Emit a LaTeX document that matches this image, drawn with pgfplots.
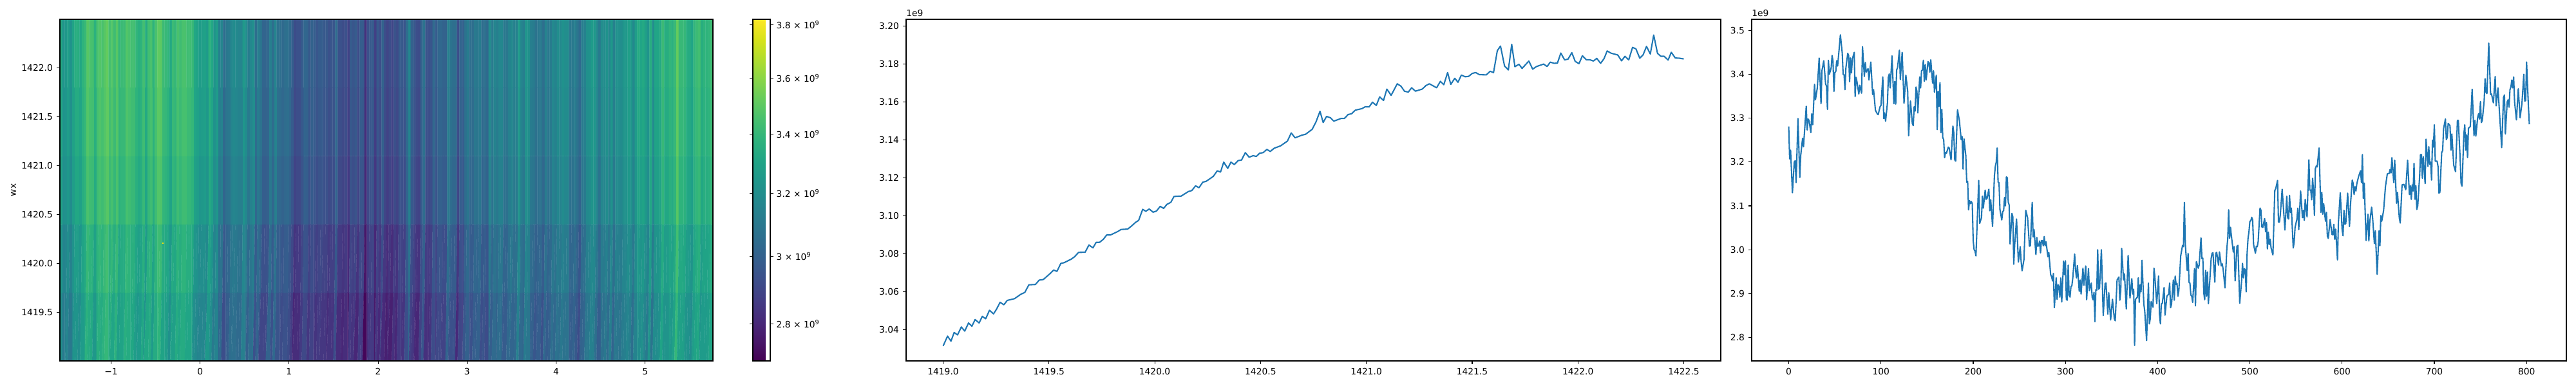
\documentclass[border=0pt]{standalone}
\usepackage{fontspec}
\setmainfont{DejaVu Sans}
\usepackage{pgfplots}
\pgfplotsset{compat=1.18}
\pgfplotsset{
 mystyle/.style={
  scale only axis, axis on top,
  axis line style={line width=0.8bp,black},
  tick align=outside, major tick length=3.5bp,
  xtick pos=bottom, ytick pos=left,
  every tick/.style={line width=0.8bp,black},
  tick label style={font=\fontsize{10}{12}\selectfont},
  xticklabel style={yshift=-1bp},
  yticklabel style={xshift=-1bp},
  /pgf/number format/assume math mode=true,
  clip mode=individual,
 },
}
\definecolor{cz}{HTML}{1F77B4}
\begin{document}
\begin{tikzpicture}
\useasboundingbox (0,0) rectangle (2880bp,432bp);
% heat map
\begin{axis}[mystyle, at={(66.96bp,28.08bp)}, anchor=south west, width=730.08bp, height=382.32bp,
 xmin=-1.575, xmax=5.762, ymin=1419, ymax=1422.5,
 xtick={-1,0,1,2,3,4,5}, xticklabels={−1,0,1,2,3,4,5},
 ytick={1419.5,1420,1420.5,1421,1421.5,1422}, yticklabels={1419.5,1420.0,1420.5,1421.0,1421.5,1422.0},
 ylabel={wx}, ylabel style={font=\fontsize{10}{12}\selectfont, at={(axis description cs:-0.071,0.5)}, anchor=center},
 colormap name=viridis, point meta min=0.9921, point meta max=1.3408,
 colorbar,
 colorbar style={scale only axis, at={(1.0611,0)}, anchor=south west, width=19.44bp, height=382.32bp,
  axis line style={line width=0.8bp,black},
  ytick={1.0296,1.0986,1.1632,1.2238,1.2809,1.3350},
  yticklabels={2.8 × 10\textsuperscript{9},3 × 10\textsuperscript{9},3.2 × 10\textsuperscript{9},3.4 × 10\textsuperscript{9},3.6 × 10\textsuperscript{9},3.8 × 10\textsuperscript{9}},
  tick align=outside, major tick length=3.5bp,
  every tick/.style={line width=0.8bp,black},
  yticklabel style={font=\fontsize{10}{12}\selectfont},
 },
]
\addplot[matrix plot*, mesh/rows=5, mesh/cols=268, mesh/ordering=y varies, draw=mapped color, line width=0.2bp, point meta={ln(\thisrow{z})}]
 table[x expr={-1.5613+floor(\coordindex/5)*0.027375}, y expr={1419.35+mod(\coordindex,5)*0.7}] {
z
3.21
3.25
3.30
3.32
3.33
3.11
3.15
3.20
3.22
3.23
3.13
3.17
3.22
3.24
3.25
3.16
3.20
3.25
3.27
3.28
3.10
3.14
3.19
3.21
3.22
3.18
3.22
3.27
3.29
3.30
3.23
3.27
3.32
3.34
3.35
3.23
3.27
3.32
3.34
3.35
3.20
3.24
3.29
3.31
3.32
3.26
3.30
3.35
3.37
3.38
3.29
3.33
3.38
3.40
3.41
3.37
3.41
3.46
3.48
3.49
3.34
3.38
3.43
3.45
3.46
3.33
3.37
3.42
3.44
3.45
3.25
3.29
3.34
3.36
3.37
3.34
3.38
3.43
3.45
3.46
3.36
3.40
3.45
3.47
3.48
3.34
3.38
3.43
3.45
3.46
3.37
3.41
3.46
3.48
3.49
3.40
3.44
3.49
3.51
3.52
3.33
3.37
3.42
3.44
3.45
3.36
3.40
3.45
3.47
3.48
3.31
3.35
3.40
3.42
3.43
3.37
3.41
3.46
3.48
3.49
3.28
3.32
3.37
3.39
3.40
3.30
3.34
3.39
3.41
3.42
3.30
3.34
3.39
3.41
3.42
3.36
3.40
3.45
3.47
3.48
3.34
3.38
3.43
3.45
3.46
3.32
3.36
3.41
3.43
3.44
3.32
3.36
3.41
3.43
3.44
3.27
3.31
3.36
3.38
3.39
3.24
3.28
3.33
3.35
3.36
3.26
3.30
3.35
3.37
3.38
3.32
3.36
3.41
3.43
3.44
3.22
3.26
3.31
3.33
3.34
3.32
3.36
3.41
3.43
3.44
3.34
3.38
3.43
3.45
3.46
3.26
3.30
3.35
3.37
3.38
3.34
3.38
3.43
3.45
3.46
3.39
3.43
3.48
3.50
3.51
3.38
3.42
3.47
3.49
3.50
3.30
3.34
3.39
3.41
3.42
3.29
3.33
3.38
3.40
3.41
3.27
3.31
3.36
3.38
3.39
3.21
3.25
3.30
3.32
3.33
3.30
3.34
3.39
3.41
3.42
3.28
3.32
3.37
3.39
3.40
3.34
3.38
3.43
3.45
3.46
3.31
3.35
3.40
3.42
3.43
3.34
3.38
3.43
3.45
3.46
3.34
3.38
3.43
3.45
3.46
3.31
3.35
3.40
3.42
3.43
3.31
3.35
3.40
3.42
3.43
3.29
3.33
3.38
3.40
3.41
3.20
3.24
3.29
3.31
3.32
3.18
3.22
3.27
3.29
3.30
3.15
3.19
3.24
3.26
3.27
3.16
3.20
3.25
3.27
3.28
3.17
3.21
3.26
3.28
3.29
3.14
3.18
3.23
3.25
3.26
3.25
3.29
3.34
3.36
3.37
3.20
3.24
3.29
3.31
3.32
3.11
3.15
3.20
3.22
3.23
3.15
3.19
3.24
3.26
3.27
3.02
3.06
3.11
3.13
3.14
3.04
3.08
3.13
3.15
3.16
2.93
2.97
3.02
3.04
3.05
2.98
3.02
3.07
3.09
3.10
2.99
3.03
3.08
3.10
3.11
3.05
3.09
3.14
3.16
3.17
3.07
3.11
3.16
3.18
3.19
3.06
3.10
3.15
3.17
3.18
3.04
3.08
3.13
3.15
3.16
3.04
3.08
3.13
3.15
3.16
3.13
3.17
3.22
3.24
3.25
3.08
3.12
3.17
3.19
3.20
3.00
3.04
3.09
3.11
3.12
3.05
3.09
3.14
3.16
3.17
3.09
3.13
3.18
3.20
3.21
2.94
2.98
3.03
3.05
3.06
3.01
3.05
3.10
3.12
3.13
2.97
3.01
3.06
3.08
3.09
2.90
2.94
2.99
3.01
3.02
2.90
2.94
2.99
3.01
3.02
2.91
2.95
3.00
3.02
3.03
3.01
3.05
3.10
3.12
3.13
2.94
2.98
3.03
3.05
3.06
3.04
3.08
3.13
3.15
3.16
2.95
2.99
3.04
3.06
3.07
2.94
2.98
3.03
3.05
3.06
2.92
2.96
3.01
3.03
3.04
2.94
2.98
3.03
3.05
3.06
2.95
2.99
3.04
3.06
3.07
2.92
2.96
3.01
3.03
3.04
2.87
2.91
2.96
2.98
2.99
2.80
2.84
2.89
2.91
2.92
2.82
2.86
2.91
2.93
2.94
2.82
2.86
2.91
2.93
2.94
2.86
2.90
2.95
2.97
2.98
2.91
2.95
3.00
3.02
3.03
2.90
2.94
2.99
3.01
3.02
2.85
2.89
2.94
2.96
2.97
2.89
2.93
2.98
3.00
3.01
2.87
2.91
2.96
2.98
2.99
2.84
2.88
2.93
2.95
2.96
2.86
2.90
2.95
2.97
2.98
2.87
2.91
2.96
2.98
2.99
2.85
2.89
2.94
2.96
2.97
2.85
2.89
2.94
2.96
2.97
2.82
2.86
2.91
2.93
2.94
2.84
2.88
2.93
2.95
2.96
2.84
2.88
2.93
2.95
2.96
2.93
2.97
3.02
3.04
3.05
2.82
2.86
2.91
2.93
2.94
2.82
2.86
2.91
2.93
2.94
2.80
2.84
2.89
2.91
2.92
2.82
2.86
2.91
2.93
2.94
2.77
2.81
2.86
2.88
2.89
2.86
2.90
2.95
2.97
2.98
2.84
2.88
2.93
2.95
2.96
2.86
2.90
2.95
2.97
2.98
2.80
2.84
2.89
2.91
2.92
2.87
2.91
2.96
2.98
2.99
2.86
2.90
2.95
2.97
2.98
2.71
2.75
2.80
2.82
2.83
2.82
2.86
2.91
2.93
2.94
2.85
2.89
2.94
2.96
2.97
2.86
2.90
2.95
2.97
2.98
2.76
2.80
2.85
2.87
2.88
2.85
2.89
2.94
2.96
2.97
2.81
2.85
2.90
2.92
2.93
2.89
2.93
2.98
3.00
3.01
2.81
2.85
2.90
2.92
2.93
2.78
2.82
2.87
2.89
2.90
2.81
2.85
2.90
2.92
2.93
2.78
2.82
2.87
2.89
2.90
2.83
2.87
2.92
2.94
2.95
2.80
2.84
2.89
2.91
2.92
2.86
2.90
2.95
2.97
2.98
2.85
2.89
2.94
2.96
2.97
2.84
2.88
2.93
2.95
2.96
2.93
2.97
3.02
3.04
3.05
3.04
3.08
3.13
3.15
3.16
2.88
2.92
2.97
2.99
3.00
2.85
2.89
2.94
2.96
2.97
2.81
2.85
2.90
2.92
2.93
2.80
2.84
2.89
2.91
2.92
2.89
2.93
2.98
3.00
3.01
2.96
3.00
3.05
3.07
3.08
2.83
2.87
2.92
2.94
2.95
2.82
2.86
2.91
2.93
2.94
2.84
2.88
2.93
2.95
2.96
2.92
2.96
3.01
3.03
3.04
2.86
2.90
2.95
2.97
2.98
2.91
2.95
3.00
3.02
3.03
2.91
2.95
3.00
3.02
3.03
2.89
2.93
2.98
3.00
3.01
2.89
2.93
2.98
3.00
3.01
3.02
3.06
3.11
3.13
3.14
2.96
3.00
3.05
3.07
3.08
2.94
2.98
3.03
3.05
3.06
2.94
2.98
3.03
3.05
3.06
2.81
2.85
2.90
2.92
2.93
2.90
2.94
2.99
3.01
3.02
2.88
2.92
2.97
2.99
3.00
2.96
3.00
3.05
3.07
3.08
3.00
3.04
3.09
3.11
3.12
2.94
2.98
3.03
3.05
3.06
2.94
2.98
3.03
3.05
3.06
2.99
3.03
3.08
3.10
3.11
2.98
3.02
3.07
3.09
3.10
3.00
3.04
3.09
3.11
3.12
2.93
2.97
3.02
3.04
3.05
2.95
2.99
3.04
3.06
3.07
2.92
2.96
3.01
3.03
3.04
3.07
3.11
3.16
3.18
3.19
2.99
3.03
3.08
3.10
3.11
3.04
3.08
3.13
3.15
3.16
3.01
3.05
3.10
3.12
3.13
3.05
3.09
3.14
3.16
3.17
3.05
3.09
3.14
3.16
3.17
2.98
3.02
3.07
3.09
3.10
2.98
3.02
3.07
3.09
3.10
3.03
3.07
3.12
3.14
3.15
3.06
3.10
3.15
3.17
3.18
3.02
3.06
3.11
3.13
3.14
3.03
3.07
3.12
3.14
3.15
3.14
3.18
3.23
3.25
3.26
3.04
3.08
3.13
3.15
3.16
3.01
3.05
3.10
3.12
3.13
3.12
3.16
3.21
3.23
3.24
3.09
3.13
3.18
3.20
3.21
3.01
3.05
3.10
3.12
3.13
3.00
3.04
3.09
3.11
3.12
2.96
3.00
3.05
3.07
3.08
2.98
3.02
3.07
3.09
3.10
2.99
3.03
3.08
3.10
3.11
2.94
2.98
3.03
3.05
3.06
3.03
3.07
3.12
3.14
3.15
2.98
3.02
3.07
3.09
3.10
3.00
3.04
3.09
3.11
3.12
3.06
3.10
3.15
3.17
3.18
3.03
3.07
3.12
3.14
3.15
3.08
3.12
3.17
3.19
3.20
3.06
3.10
3.15
3.17
3.18
3.10
3.14
3.19
3.21
3.22
3.08
3.12
3.17
3.19
3.20
3.08
3.12
3.17
3.19
3.20
2.98
3.02
3.07
3.09
3.10
2.99
3.03
3.08
3.10
3.11
3.01
3.05
3.10
3.12
3.13
2.97
3.01
3.06
3.08
3.09
2.92
2.96
3.01
3.03
3.04
3.01
3.05
3.10
3.12
3.13
3.02
3.06
3.11
3.13
3.14
3.09
3.13
3.18
3.20
3.21
3.10
3.14
3.19
3.21
3.22
3.14
3.18
3.23
3.25
3.26
3.13
3.17
3.22
3.24
3.25
3.06
3.10
3.15
3.17
3.18
2.99
3.03
3.08
3.10
3.11
3.08
3.12
3.17
3.19
3.20
3.07
3.11
3.16
3.18
3.19
3.10
3.14
3.19
3.21
3.22
3.05
3.09
3.14
3.16
3.17
3.13
3.17
3.22
3.24
3.25
3.02
3.06
3.11
3.13
3.14
3.10
3.14
3.19
3.21
3.22
3.09
3.13
3.18
3.20
3.21
3.08
3.12
3.17
3.19
3.20
3.12
3.16
3.21
3.23
3.24
3.13
3.17
3.22
3.24
3.25
3.16
3.20
3.25
3.27
3.28
3.13
3.17
3.22
3.24
3.25
3.06
3.10
3.15
3.17
3.18
3.15
3.19
3.24
3.26
3.27
3.22
3.26
3.31
3.33
3.34
3.19
3.23
3.28
3.30
3.31
3.21
3.25
3.30
3.32
3.33
3.16
3.20
3.25
3.27
3.28
3.11
3.15
3.20
3.22
3.23
3.23
3.27
3.32
3.34
3.35
3.08
3.12
3.17
3.19
3.20
3.19
3.23
3.28
3.30
3.31
3.19
3.23
3.28
3.30
3.31
3.21
3.25
3.30
3.32
3.33
3.30
3.34
3.39
3.41
3.42
3.23
3.27
3.32
3.34
3.35
3.23
3.27
3.32
3.34
3.35
3.27
3.31
3.36
3.38
3.39
3.25
3.29
3.34
3.36
3.37
3.29
3.33
3.38
3.40
3.41
3.40
3.44
3.49
3.51
3.52
3.29
3.33
3.38
3.40
3.41
3.29
3.33
3.38
3.40
3.41
3.28
3.32
3.37
3.39
3.40
3.23
3.27
3.32
3.34
3.35
3.22
3.26
3.31
3.33
3.34
3.19
3.23
3.28
3.30
3.31
3.27
3.31
3.36
3.38
3.39
3.30
3.34
3.39
3.41
3.42
3.32
3.36
3.41
3.43
3.44
3.23
3.27
3.32
3.34
3.35
3.26
3.30
3.35
3.37
3.38
3.26
3.30
3.35
3.37
3.38
3.27
3.31
3.36
3.38
3.39
3.31
3.35
3.40
3.42
3.43
};
\addplot[only marks, mark=square*, mark size=0.45bp, color=yellow!85!orange] coordinates {(-0.418,1420.21)};
\end{axis}
% row series
\begin{axis}[mystyle, at={(1013.04bp,28.08bp)}, anchor=south west, width=910.8bp, height=382.32bp,
 xmin=1418.825, xmax=1422.675, ymin=3.0234, ymax=3.2035,
 xtick={1419,1419.5,1420,1420.5,1421,1421.5,1422,1422.5},
 xticklabels={1419.0,1419.5,1420.0,1420.5,1421.0,1421.5,1422.0,1422.5},
 ytick={3.04,3.06,3.08,3.10,3.12,3.14,3.16,3.18,3.20},
 yticklabels={3.04,3.06,3.08,3.10,3.12,3.14,3.16,3.18,3.20},
]
\addplot[cz, line width=1.5bp, line join=round] table {
1419.00 3.0313
1419.021 3.0365
1419.037 3.0338
1419.052 3.0384
1419.068 3.0371
1419.086 3.0413
1419.102 3.0391
1419.120 3.0434
1419.136 3.0417
1419.151 3.0452
1419.170 3.0434
1419.185 3.0469
1419.201 3.0456
1419.219 3.0501
1419.238 3.0482
1419.253 3.0508
1419.269 3.0543
1419.287 3.0530
1419.303 3.0553
1419.337 3.0562
1419.368 3.0586
1419.386 3.0595
1419.405 3.0635
1419.436 3.0637
1419.454 3.0660
1419.473 3.0663
1419.504 3.0693
1419.522 3.0713
1419.538 3.0706
1419.556 3.0748
1419.572 3.0752
1419.606 3.0771
1419.621 3.0783
1419.640 3.0806
1419.671 3.0807
1419.689 3.0845
1419.708 3.0830
1419.723 3.0859
1419.739 3.0859
1419.757 3.0875
1419.773 3.0898
1419.791 3.0898
1419.825 3.0916
1419.841 3.0927
1419.872 3.0929
1419.890 3.0945
1419.909 3.0964
1419.924 3.0975
1419.943 3.1033
1419.958 3.1023
1419.974 3.1035
1419.992 3.1018
1420.008 3.1024
1420.026 3.1049
1420.042 3.1038
1420.057 3.1059
1420.076 3.1070
1420.091 3.1101
1420.125 3.1103
1420.159 3.1127
1420.175 3.1132
1420.193 3.1157
1420.209 3.1147
1420.227 3.1176
1420.243 3.1181
1420.277 3.1207
1420.295 3.1236
1420.311 3.1230
1420.326 3.1282
1420.345 3.1249
1420.360 3.1282
1420.376 3.1269
1420.394 3.1290
1420.410 3.1293
1420.428 3.1332
1420.446 3.1308
1420.465 3.1316
1420.480 3.1312
1420.496 3.1329
1420.512 3.1332
1420.530 3.1349
1420.546 3.1338
1420.564 3.1355
1420.595 3.1368
1420.627 3.1393
1420.645 3.1436
1420.663 3.1410
1420.695 3.1424
1420.713 3.1429
1420.744 3.1455
1420.762 3.1494
1420.781 3.1550
1420.796 3.1491
1420.812 3.1523
1420.830 3.1516
1420.846 3.1498
1420.880 3.1512
1420.896 3.1512
1420.914 3.1533
1420.930 3.1537
1420.948 3.1556
1420.979 3.1564
1420.995 3.1574
1421.013 3.1573
1421.029 3.1598
1421.047 3.1581
1421.063 3.1626
1421.081 3.1607
1421.097 3.1667
1421.117 3.1634
1421.146 3.1695
1421.164 3.1682
1421.180 3.1656
1421.198 3.1651
1421.214 3.1674
1421.232 3.1656
1421.264 3.1667
1421.282 3.1686
1421.298 3.1695
1421.332 3.1674
1421.350 3.1708
1421.366 3.1690
1421.384 3.1754
1421.399 3.1692
1421.418 3.1724
1421.433 3.1703
1421.449 3.1741
1421.467 3.1732
1421.483 3.1734
1421.501 3.1750
1421.517 3.1754
1421.535 3.1743
1421.567 3.1742
1421.585 3.1761
1421.601 3.1754
1421.619 3.1870
1421.634 3.1894
1421.653 3.1789
1421.671 3.1768
1421.687 3.1903
1421.702 3.1785
1421.721 3.1798
1421.736 3.1776
1421.768 3.1815
1421.786 3.1772
1421.804 3.1786
1421.838 3.1799
1421.854 3.1786
1421.869 3.1809
1421.888 3.1803
1421.903 3.1804
1421.919 3.1857
1421.937 3.1821
1421.953 3.1825
1421.971 3.1859
1421.987 3.1813
1422.005 3.1801
1422.021 3.1843
1422.039 3.1822
1422.055 3.1822
1422.073 3.1815
1422.089 3.1829
1422.107 3.1803
1422.123 3.1827
1422.138 3.1868
1422.157 3.1856
1422.188 3.1847
1422.206 3.1816
1422.222 3.1840
1422.240 3.1821
1422.258 3.1887
1422.274 3.1879
1422.292 3.1830
1422.308 3.1848
1422.324 3.1892
1422.342 3.1852
1422.358 3.1952
1422.376 3.1855
1422.392 3.1840
1422.407 3.1840
1422.426 3.1820
1422.441 3.1861
1422.460 3.1831
1422.478 3.1830
1422.50 3.1826
};
\node[anchor=base west, inner sep=0pt, font=\fontsize{10}{12}\selectfont] at ([yshift=3bp]rel axis cs:0,1) {1e9};
\end{axis}
% column series
\begin{axis}[mystyle, at={(1958.4bp,28.08bp)}, anchor=south west, width=910.8bp, height=382.32bp,
 xmin=-40.15, xmax=843.15, ymin=2.7466, ymax=3.5254,
 xtick={0,100,200,300,400,500,600,700,800},
 xticklabels={0,100,200,300,400,500,600,700,800},
 ytick={2.8,2.9,3.0,3.1,3.2,3.3,3.4,3.5},
 yticklabels={2.8,2.9,3.0,3.1,3.2,3.3,3.4,3.5},
]
\addplot[cz, line width=1.5bp, line join=round] table {
0 3.281
1 3.207
2 3.227
4 3.130
6 3.200
7 3.203
8 3.153
10 3.299
12 3.165
13 3.215
15 3.254
16 3.235
19 3.327
20 3.273
21 3.298
22 3.295
24 3.267
25 3.310
26 3.285
28 3.377
29 3.342
31 3.369
33 3.437
35 3.333
36 3.408
38 3.431
40 3.378
41 3.373
42 3.320
43 3.432
44 3.400
46 3.414
47 3.443
48 3.430
49 3.361
50 3.404
51 3.406
52 3.431
53 3.419
54 3.442
56 3.490
58 3.449
59 3.400
60 3.399
61 3.365
62 3.415
64 3.448
65 3.442
66 3.383
67 3.437
68 3.403
69 3.435
71 3.450
72 3.349
73 3.393
74 3.383
76 3.355
77 3.375
79 3.357
80 3.463
82 3.395
83 3.427
84 3.405
86 3.413
87 3.387
89 3.428
91 3.354
92 3.365
94 3.318
96 3.310
97 3.308
99 3.326
100 3.329
102 3.394
103 3.299
104 3.312
105 3.293
107 3.334
108 3.393
109 3.401
110 3.369
112 3.442
114 3.333
115 3.384
116 3.332
117 3.410
118 3.415
120 3.455
121 3.388
123 3.450
125 3.334
127 3.398
129 3.361
130 3.260
132 3.339
134 3.288
135 3.283
136 3.326
137 3.316
138 3.371
139 3.361
140 3.312
142 3.394
143 3.369
144 3.408
145 3.410
146 3.432
147 3.384
148 3.422
149 3.387
151 3.429
152 3.426
153 3.405
154 3.433
156 3.380
157 3.408
158 3.359
160 3.398
161 3.274
162 3.361
163 3.327
164 3.381
165 3.267
166 3.320
167 3.256
168 3.251
169 3.210
170 3.222
171 3.220
173 3.234
174 3.232
176 3.205
178 3.282
179 3.266
180 3.205
181 3.202
183 3.319
185 3.295
187 3.251
188 3.258
189 3.184
190 3.253
192 3.215
193 3.154
194 3.156
195 3.091
196 3.112
197 3.105
198 3.110
199 3.105
200 3.021
201 3.000
202 2.997
203 2.986
206 3.158
207 3.060
209 3.073
210 3.122
211 3.095
213 3.136
214 3.115
215 3.117
217 3.138
218 3.089
219 3.114
221 3.053
223 3.168
224 3.190
225 3.200
226 3.232
227 3.154
228 3.153
229 3.092
231 3.068
232 3.087
233 3.089
234 3.119
235 3.100
236 3.166
237 3.164
238 3.109
239 3.102
240 3.013
242 3.083
243 3.075
244 2.967
245 3.012
247 3.070
249 2.972
251 3.007
252 2.973
253 2.952
255 2.977
257 3.090
259 3.073
261 3.008
262 3.009
264 3.108
265 3.029
266 3.046
268 2.989
269 3.028
270 3.008
271 3.009
272 3.020
273 2.993
274 3.021
275 3.021
276 3.009
277 3.030
278 3.009
279 3.018
281 2.984
282 2.994
284 2.943
285 2.939
286 2.929
287 2.946
288 2.868
290 2.936
291 2.887
292 2.920
293 2.916
294 2.892
295 2.936
296 2.881
298 2.974
299 2.943
300 2.975
301 2.887
302 2.885
303 2.965
304 2.897
305 2.892
306 2.916
307 2.918
308 2.936
310 2.990
311 2.953
312 2.936
313 2.964
315 2.905
316 2.931
317 2.899
319 2.958
320 2.919
322 2.963
323 2.886
325 2.957
326 2.907
328 2.924
329 2.892
330 2.886
331 2.903
332 2.836
333 2.909
334 2.908
335 3.000
336 2.910
337 2.913
339 3.000
341 2.850
343 2.923
344 2.924
346 2.853
347 2.902
349 2.840
351 2.887
353 2.843
354 2.838
356 2.931
358 2.938
359 2.885
360 2.907
361 3.003
363 2.931
364 2.945
366 2.865
368 2.987
370 2.890
372 2.934
373 2.899
374 2.910
375 2.782
376 2.887
378 2.892
379 2.936
380 2.880
381 2.920
382 2.904
383 2.976
385 2.877
386 2.860
388 2.793
390 2.924
391 2.831
392 2.843
393 2.882
395 2.869
396 2.958
397 2.938
399 2.877
401 2.940
402 2.853
403 2.831
404 2.877
405 2.877
407 2.914
408 2.851
410 2.894
412 2.899
413 2.924
414 2.868
415 2.875
417 2.931
418 2.885
419 2.940
420 2.921
421 2.923
422 2.894
423 2.907
425 2.986
427 3.010
428 3.007
429 3.108
430 3.012
432 2.953
433 2.992
434 2.926
435 2.924
436 2.897
437 2.894
438 2.880
440 2.957
441 2.872
442 2.973
444 2.958
445 2.965
447 3.027
448 2.980
449 2.981
450 2.902
451 2.886
452 2.953
453 2.894
454 2.949
455 2.877
458 2.980
459 2.992
460 2.993
462 2.926
463 2.992
464 2.994
466 2.965
467 2.995
469 2.963
470 2.968
471 2.956
473 2.913
475 3.002
476 3.026
477 3.091
478 3.026
479 3.051
480 3.031
482 2.995
483 3.007
484 2.929
486 3.008
487 3.010
489 2.878
491 2.929
492 2.969
493 2.936
494 2.957
495 2.954
496 2.904
497 2.992
498 3.026
499 3.041
500 3.065
501 3.066
502 3.074
503 3.068
504 3.012
506 2.992
507 3.008
508 3.007
509 3.019
511 3.095
512 3.090
513 3.052
514 3.051
516 3.071
517 3.041
518 3.062
519 3.002
520 3.040
521 3.012
522 3.024
523 3.004
525 2.988
527 3.135
528 3.139
530 3.158
531 3.063
532 3.063
533 3.080
535 3.138
538 3.045
540 3.122
541 3.073
542 3.070
543 3.124
544 3.085
545 3.095
547 3.004
548 3.017
549 3.051
551 3.070
552 3.095
553 3.046
555 3.134
557 3.073
558 3.090
559 3.067
560 3.115
562 3.075
564 3.205
565 3.136
566 3.136
567 3.114
568 3.163
569 3.134
570 3.078
571 3.185
572 3.191
573 3.189
575 3.232
577 3.085
578 3.131
579 3.081
580 3.105
582 3.065
583 3.085
584 3.031
585 3.026
587 3.069
589 3.035
590 3.034
591 3.058
592 3.024
593 3.047
595 2.977
596 3.063
598 3.130
600 3.046
601 3.032
602 3.090
603 3.058
604 3.060
606 3.129
608 3.053
609 3.100
611 3.159
612 3.151
613 3.126
614 3.144
615 3.134
616 3.151
618 3.168
620 3.180
621 3.153
622 3.217
623 3.117
624 3.152
626 3.021
628 3.081
629 3.020
630 3.064
632 3.097
633 3.075
635 3.014
636 3.043
638 2.944
640 3.043
641 3.009
642 3.078
643 3.065
645 3.090
647 3.144
649 3.173
651 3.174
652 3.183
653 3.175
654 3.210
656 3.153
657 3.204
659 3.106
660 3.131
662 3.073
663 3.061
665 3.148
667 3.149
669 3.137
671 3.204
673 3.126
674 3.146
675 3.115
676 3.148
677 3.134
678 3.197
679 3.115
680 3.146
681 3.092
682 3.100
684 3.166
685 3.217
686 3.217
687 3.163
688 3.212
690 3.151
691 3.252
693 3.190
694 3.235
695 3.195
696 3.200
697 3.159
698 3.250
699 3.234
700 3.285
701 3.202
703 3.202
704 3.190
705 3.129
706 3.131
708 3.222
709 3.226
710 3.276
712 3.298
713 3.251
714 3.256
715 3.288
717 3.283
718 3.227
719 3.264
721 3.193
723 3.178
725 3.295
726 3.295
728 3.207
729 3.151
730 3.145
732 3.263
733 3.285
734 3.227
735 3.262
736 3.210
737 3.277
739 3.281
741 3.366
743 3.260
744 3.295
745 3.259
747 3.302
748 3.310
749 3.298
750 3.338
751 3.290
752 3.295
754 3.339
755 3.390
756 3.359
757 3.356
759 3.471
761 3.354
762 3.355
764 3.335
766 3.395
767 3.328
769 3.369
771 3.300
773 3.233
775 3.347
776 3.353
777 3.264
779 3.337
780 3.342
781 3.325
782 3.365
783 3.371
784 3.387
785 3.369
786 3.394
787 3.337
789 3.296
791 3.367
793 3.301
795 3.334
797 3.400
798 3.339
799 3.340
800 3.428
802 3.327
803 3.286
};
\node[anchor=base west, inner sep=0pt, font=\fontsize{10}{12}\selectfont] at ([yshift=3bp]rel axis cs:0,1) {1e9};
\end{axis}
\end{tikzpicture}
\end{document}
